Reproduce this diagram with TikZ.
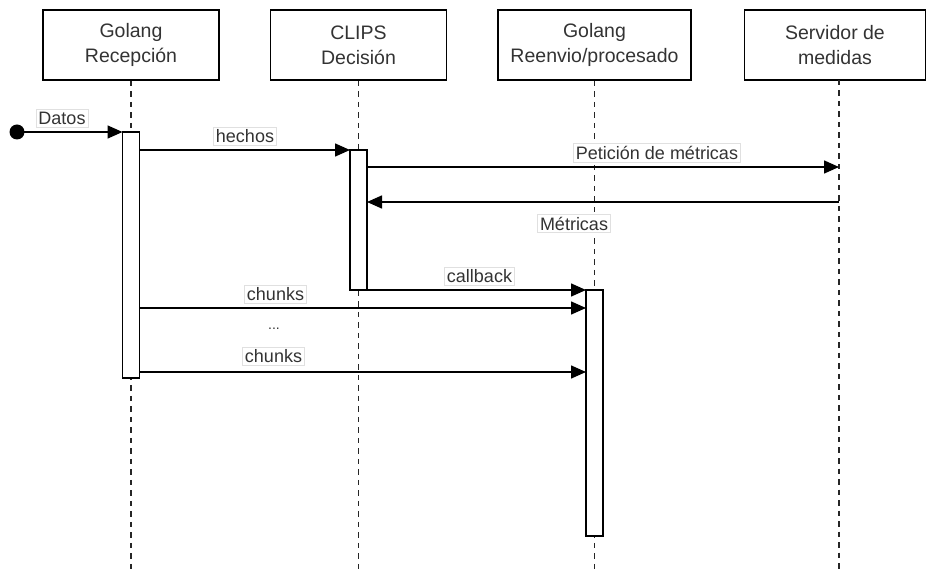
\documentclass[tikz,border=0pt]{standalone}
\usepackage{fontspec}
\setmainfont{Liberation Sans}
\usetikzlibrary{arrows.meta}
\definecolor{txt}{HTML}{333333}

\begin{document}
\begin{tikzpicture}[x=1pt,y=-1pt,
  head/.style={draw=black, line width=1.6pt, fill=white, minimum width=176pt,
    minimum height=70pt, align=center, inner sep=0pt, text=txt,
    font=\fontsize{19.5}{25}\selectfont},
  lifeln/.style={draw=black!85, line width=1.4pt, dash pattern=on 5.5pt off 5pt},
  actbox/.style={draw=black, line width=1.5pt, fill=white, minimum width=17pt,
    inner sep=0pt, outer sep=0pt},
  msg/.style={draw=black, line width=1.5pt,
    -{Triangle[length=15pt,width=13pt]}},
  lbl/.style={fill=white, draw=black!12, line width=0.6pt, text=txt,
    font=\fontsize{18}{22}\selectfont, inner sep=2.5pt}
]
\useasboundingbox (0,0) rectangle (927,569);

% participants
\node[head] (rec) at (131,45)   {Golang\\Recepción};
\node[head] (dec) at (358.5,45) {CLIPS\\Decisión};
\node[head, minimum width=193pt] (fwd) at (594.5,45) {Golang\\Reenvio/procesado};
\node[head, minimum width=181pt] (srv) at (835,45) {Servidor de\\medidas};

% lifelines
\coordinate (bot) at (0,569);
\draw[lifeln] (rec.south) -- (rec.south |- bot);
\draw[lifeln] (dec.south) -- (dec.south |- bot);
\draw[lifeln] (fwd.south) -- (fwd.south |- bot);
\coordinate (srvline) at (839,80);
\draw[lifeln] (srvline) -- (srvline |- bot);

% activations
\node[actbox, minimum height=246pt] (a1) at (131,255) {};
\node[actbox, minimum height=140pt] (a2) at (358.5,220) {};
\node[actbox, minimum height=246pt] (a3) at (594.5,413) {};

% message rows
\coordinate (yPet)   at (0,167);
\coordinate (yMet)   at (0,202);
\coordinate (yChk1)  at (0,308);
\coordinate (yChk2)  at (0,372);

% found message
\coordinate (src) at (17,132);
\fill (src) circle (7.5pt);
\draw[msg] (src) -- (a1.north west);

% messages
\draw[msg] (a1.east |- a2.north) -- (a2.north west);
\draw[msg] (a2.east |- yPet) -- (srvline |- yPet);
\draw[msg] (srvline |- yMet) -- (a2.east |- yMet);
\draw[msg] (a2.south east) -- (a3.north west);
\draw[msg] (a1.east |- yChk1) -- (a3.west |- yChk1);
\draw[msg] (a1.east |- yChk2) -- (a3.west |- yChk2);

% labels
\node[lbl] (lDatos)  at (62,118.5) {Datos};
\node[lbl] (lHechos) at (245,136)  {hechos};
\node[lbl] (lPet)    at (657,153)  {Petición de métricas};
\node[lbl] (lMet)    at (574,223.5){Métricas};
\node[lbl] (lCall)   at (479.5,276){callback};
\node[lbl] (lChk1)   at (275.5,294){chunks};
\node[text=txt, font=\fontsize{14}{16}\selectfont, inner sep=0pt] (lDots) at (274,329) {...};
\node[lbl] (lChk2)   at (273.5,356.5){chunks};
\end{tikzpicture}
\end{document}
